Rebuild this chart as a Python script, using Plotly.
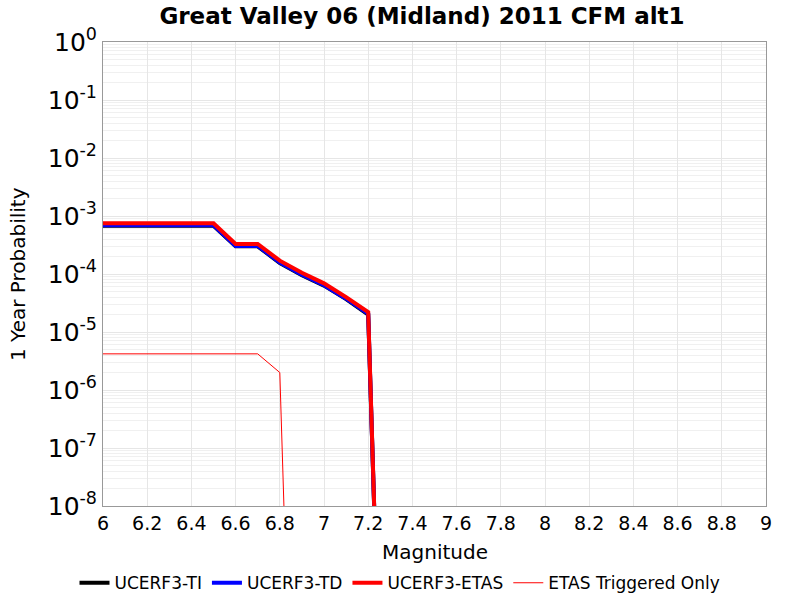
import plotly.graph_objects as go

mags = [6.0, 6.1, 6.2, 6.3, 6.4, 6.5, 6.6, 6.7, 6.8, 6.9, 7.0, 7.1, 7.2, 7.3]
ti = [6.8e-4, 6.8e-4, 6.8e-4, 6.8e-4, 6.8e-4, 6.8e-4, 3.0e-4, 3.0e-4, 1.55e-4, 9.5e-5, 6.3e-5, 3.7e-5, 2.0e-5, 1e-17]
td = [6.9e-4, 6.9e-4, 6.9e-4, 6.9e-4, 6.9e-4, 6.9e-4, 3.05e-4, 3.05e-4, 1.58e-4, 9.7e-5, 6.4e-5, 3.75e-5, 2.05e-5, 1e-17]
etas = [7.5e-4, 7.5e-4, 7.5e-4, 7.5e-4, 7.5e-4, 7.5e-4, 3.3e-4, 3.3e-4, 1.7e-4, 1.05e-4, 6.9e-5, 4.0e-5, 2.2e-5, 1e-17]
trig_mags = [6.0, 6.1, 6.2, 6.3, 6.4, 6.5, 6.6, 6.7, 6.8, 6.9]
trig = [4.2e-6, 4.2e-6, 4.2e-6, 4.2e-6, 4.2e-6, 4.2e-6, 4.2e-6, 4.2e-6, 2.0e-6, 1e-18]

ytick_vals = [1e0, 1e-1, 1e-2, 1e-3, 1e-4, 1e-5, 1e-6, 1e-7, 1e-8]
ytick_text = ["10<sup>0</sup>", "10<sup>-1</sup>", "10<sup>-2</sup>", "10<sup>-3</sup>", "10<sup>-4</sup>",
              "10<sup>-5</sup>", "10<sup>-6</sup>", "10<sup>-7</sup>", "10<sup>-8</sup>"]
xtick_vals = [6, 6.2, 6.4, 6.6, 6.8, 7, 7.2, 7.4, 7.6, 7.8, 8, 8.2, 8.4, 8.6, 8.8, 9]
xtick_text = ["6", "6.2", "6.4", "6.6", "6.8", "7", "7.2", "7.4", "7.6", "7.8", "8", "8.2", "8.4", "8.6", "8.8", "9"]

FONT = "DejaVu Sans"

fig = go.Figure()
fig.add_trace(go.Scatter(x=mags, y=ti, mode="lines", name="UCERF3-TI", line=dict(color="black", width=4)))
fig.add_trace(go.Scatter(x=mags, y=td, mode="lines", name="UCERF3-TD", line=dict(color="blue", width=4)))
fig.add_trace(go.Scatter(x=mags, y=etas, mode="lines", name="UCERF3-ETAS", line=dict(color="red", width=4)))
fig.add_trace(go.Scatter(x=trig_mags, y=trig, mode="lines", name="ETAS Triggered Only", line=dict(color="red", width=1)))

fig.update_layout(
    width=800, height=600,
    margin=dict(l=103, r=34, t=42, b=94),
    paper_bgcolor="white", plot_bgcolor="white",
    font=dict(family=FONT, color="black"),
    title=dict(text="<b>Great Valley 06 (Midland) 2011 CFM alt1</b>", x=0.5275, xref="container", xanchor="center",
               y=0.973, yref="container", yanchor="middle", font=dict(size=23, family=FONT)),
    showlegend=True,
    legend=dict(orientation="h", x=0.5, xanchor="center", xref="container", y=0.028, yref="container",
                yanchor="middle", font=dict(size=17, family=FONT), itemwidth=30, tracegroupgap=0,
                bgcolor="rgba(0,0,0,0)"),
    annotations=[
        dict(text="Magnitude", xref="paper", yref="paper", x=0.5, y=(506 - 552) / 464,
             xanchor="center", yanchor="middle", showarrow=False, font=dict(size=20, family=FONT)),
        dict(text="1 Year Probability", xref="paper", yref="paper", x=(18 - 103) / 663, y=0.5,
             xanchor="center", yanchor="middle", textangle=-90, showarrow=False, font=dict(size=20, family=FONT)),
    ],
)
fig.update_xaxes(
    range=[6, 9], tickvals=xtick_vals, ticktext=xtick_text, automargin=False,
    tickfont=dict(size=19), showgrid=True, gridcolor="#e6e6e6", gridwidth=1,
    showline=True, linecolor="#999999", mirror=True, zeroline=False, ticks="",
)
fig.update_yaxes(
    type="log", range=[-8, 0], tickvals=ytick_vals, ticktext=ytick_text, automargin=False,
    tickfont=dict(size=25), showgrid=True, gridcolor="#e6e6e6", gridwidth=1,
    minor=dict(showgrid=True, gridcolor="#f0f0f0", dtick="D1"),
    showline=True, linecolor="#999999", mirror=True, zeroline=False, ticks="",
)

fig.write_html("out.html")
